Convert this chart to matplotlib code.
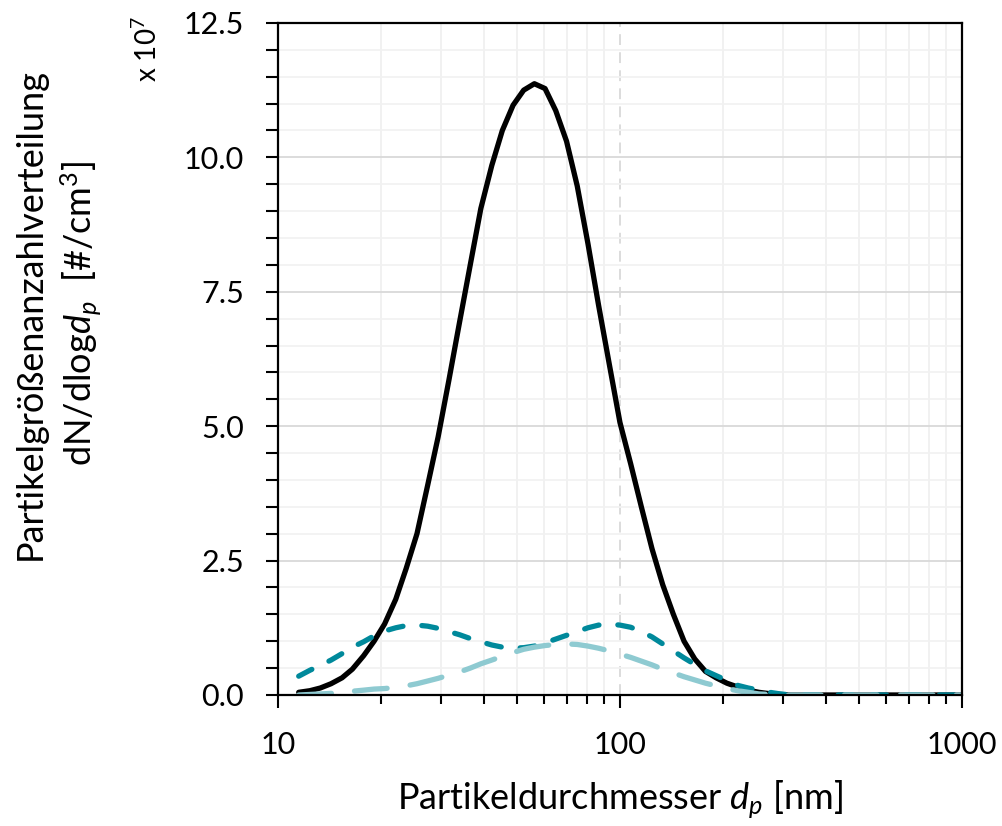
import matplotlib
matplotlib.use("Agg")
import matplotlib.pyplot as plt
from matplotlib.ticker import FixedLocator, MultipleLocator, FuncFormatter, NullFormatter

plt.rcParams['font.family'] = ['Lato', 'DejaVu Sans']
plt.rcParams['mathtext.fontset'] = 'custom'
plt.rcParams['mathtext.rm'] = 'Lato'
plt.rcParams['mathtext.it'] = 'Lato:italic'

# particle diameter bins [nm]
diameters = [11.5, 12.4, 13.3, 14.3, 15.4, 16.5, 17.8, 19.1, 20.5, 22.1, 23.7, 25.5,
             27.4, 29.4, 31.6, 34.0, 36.5, 39.2, 42.2, 45.3, 48.7, 52.3, 56.2, 60.4,
             64.9, 69.8, 75.0, 80.6, 86.6, 93.1, 100.0, 107.5, 115.5, 124.1, 133.4,
             143.3, 154.0, 165.5, 177.8, 191.1, 205.4, 220.7, 237.1, 254.8, 273.8,
             294.3, 316.2, 400.0, 500.0, 600.0, 700.0, 800.0, 900.0, 1000.0]

# dN/dlog dp in units of 1e7 #/cm3
black_vals = [0.05, 0.08, 0.13, 0.21, 0.32, 0.48, 0.73, 1.00, 1.32, 1.78, 2.35, 3.00,
              3.90, 4.80, 5.85, 6.95, 8.00, 9.05, 9.85, 10.50, 10.97, 11.25, 11.37, 11.28,
              10.87, 10.30, 9.47, 8.40, 7.25, 6.15, 5.07, 4.30, 3.50, 2.72, 2.05,
              1.50, 1.00, 0.67, 0.44, 0.32, 0.22, 0.15, 0.09, 0.05, 0.025,
              0.01, 0.0, 0.0, 0.0, 0.0, 0.0, 0.0, 0.0, 0.0]

dark_vals = [0.35, 0.46, 0.55, 0.65, 0.77, 0.89, 0.99, 1.10, 1.19, 1.25, 1.29, 1.30,
             1.28, 1.24, 1.18, 1.12, 1.05, 0.99, 0.93, 0.89, 0.87, 0.88, 0.91, 0.97,
             1.04, 1.11, 1.18, 1.25, 1.30, 1.32, 1.30, 1.26, 1.18, 1.08, 0.95,
             0.82, 0.69, 0.57, 0.45, 0.36, 0.27, 0.18, 0.13, 0.09, 0.05,
             0.02, 0.0, 0.0, 0.0, 0.0, 0.0, 0.0, 0.0, 0.0]

light_vals = [0.0, 0.01, 0.02, 0.03, 0.05, 0.07, 0.09, 0.11, 0.12, 0.14, 0.17, 0.21,
              0.26, 0.31, 0.37, 0.43, 0.50, 0.58, 0.65, 0.72, 0.79, 0.85, 0.89, 0.92,
              0.94, 0.95, 0.94, 0.91, 0.87, 0.82, 0.76, 0.70, 0.63, 0.56, 0.48,
              0.41, 0.34, 0.28, 0.22, 0.17, 0.12, 0.08, 0.05, 0.02, 0.01,
              0.0, 0.0, 0.0, 0.0, 0.0, 0.0, 0.0, 0.0, 0.0]

y_ticks = [0.0, 2.5, 5.0, 7.5, 10.0, 12.5]
x_ticks = [10, 100, 1000]

fig = plt.figure(figsize=(10.02, 8.26), dpi=100)
ax = fig.add_axes([0.2774, 0.1586, 0.6826, 0.8136])

ax.set_xscale('log')
ax.set_xlim(10, 1000)
ax.set_ylim(0, 12.5)

# grid
ax.set_axisbelow(True)
ax.yaxis.set_major_locator(FixedLocator(y_ticks))
ax.yaxis.set_minor_locator(MultipleLocator(0.5))
ax.xaxis.set_major_locator(FixedLocator(x_ticks))
ax.xaxis.set_minor_locator(FixedLocator([m * 10 ** e for e in (1, 2) for m in range(2, 10)]))
ax.xaxis.set_major_formatter(FuncFormatter(lambda v, p: "%d" % v))
ax.xaxis.set_minor_formatter(NullFormatter())
ax.yaxis.set_major_formatter(FuncFormatter(lambda v, p: "%.1f" % v))

ax.grid(axis='y', which='major', color='#d9d9d9', linewidth=1.3)
ax.grid(axis='y', which='minor', color='#f2f2f2', linewidth=1.3)
ax.grid(axis='x', which='minor', color='#f0f0f0', linewidth=1.3)
ax.axvline(100, color='#d9d9d9', linewidth=1.3, dashes=(6, 4), zorder=0.5)

# curves
ax.plot(diameters, black_vals, color='black', linewidth=3.8, zorder=3,
        solid_capstyle='round', solid_joinstyle='round')
ax.plot(diameters, dark_vals, color='#00899b', linewidth=3.8, zorder=4,
        dashes=(2.8, 3.6), dash_capstyle='round')
ax.plot(diameters, light_vals, color='#8ecad1', linewidth=3.8, zorder=5,
        dashes=(6.2, 4.4), dash_capstyle='round')

for side in ['left', 'bottom', 'top', 'right']:
    ax.spines[side].set_linewidth(1.6)
    ax.spines[side].set_color('black')
    ax.spines[side].set_zorder(6)

ax.tick_params(axis='y', which='both', direction='out', length=8.5, width=1.5,
               labelsize=22, pad=16)
ax.tick_params(axis='x', which='major', direction='out', length=9, width=1.5,
               labelsize=22, pad=17)
ax.tick_params(axis='x', which='minor', direction='out', length=6.5, width=1.5)

ax.set_xlabel("Partikeldurchmesser $d_p$ [nm]", fontsize=26, labelpad=14)

fig.text(0.030, 0.620, "Partikelgrößenanzahlverteilung", rotation=90,
         ha='center', va='center', fontsize=26)
fig.text(0.081, 0.620, "dN/dlog$d_p$  [#/cm$^3$]", rotation=90,
         ha='center', va='center', fontsize=26)
fig.text(0.147, 0.940, "x 10$^{7}$", rotation=90, ha='center', va='center', fontsize=20)

fig.savefig("out.png", dpi=100)
